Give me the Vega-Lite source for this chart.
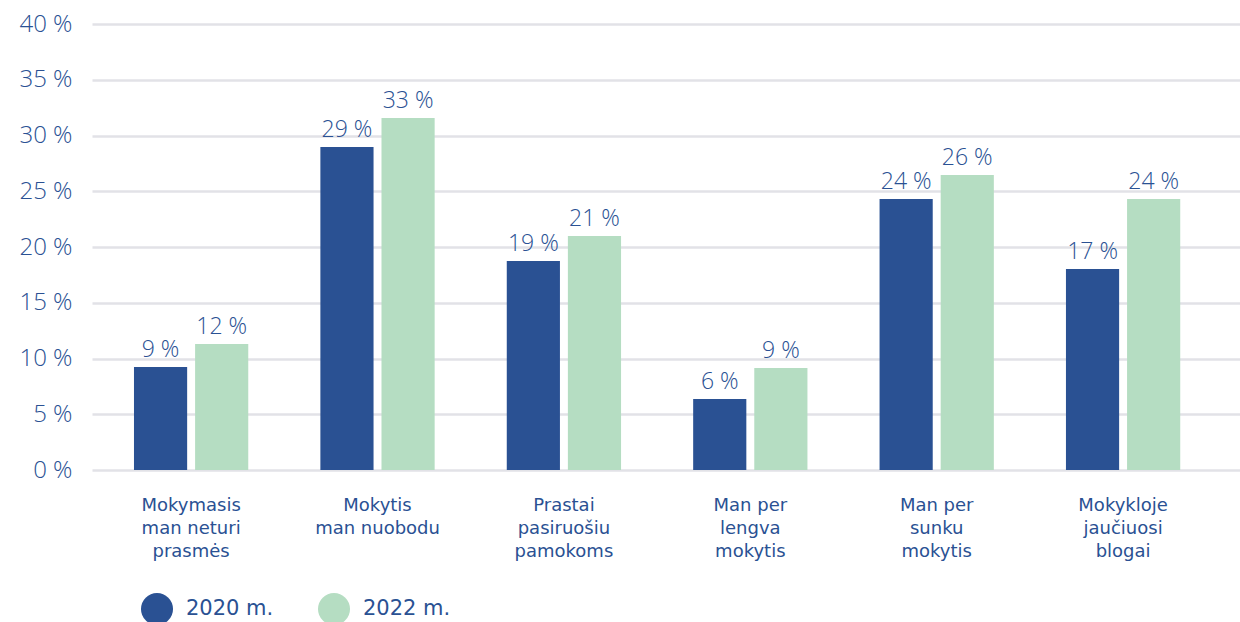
{
  "$schema": "https://vega.github.io/schema/vega-lite/v6.json",
  "autosize": {"type": "none"},
  "width": 1148,
  "height": 446,
  "padding": {"left": 92, "top": 24, "right": 0, "bottom": 152},
  "background": "white",
  "config": {
    "view": {"stroke": null},
    "font": "Open Sans",
    "axis": {"labelColor": "#2a5193", "titleColor": "#2a5193"}
  },
  "data": {
    "values": [
      {"cat": "Mokymasis|man neturi|prasmės", "year": "2020 m.", "value": 9.24, "label": "9 %"},
      {"cat": "Mokymasis|man neturi|prasmės", "year": "2022 m.", "value": 11.3, "label": "12 %"},
      {"cat": "Mokytis|man nuobodu", "year": "2020 m.", "value": 28.97, "label": "29 %"},
      {"cat": "Mokytis|man nuobodu", "year": "2022 m.", "value": 31.57, "label": "33 %"},
      {"cat": "Prastai|pasiruošiu|pamokoms", "year": "2020 m.", "value": 18.74, "label": "19 %"},
      {"cat": "Prastai|pasiruošiu|pamokoms", "year": "2022 m.", "value": 20.99, "label": "21 %"},
      {"cat": "Man per|lengva|mokytis", "year": "2020 m.", "value": 6.37, "label": "6 %"},
      {"cat": "Man per|lengva|mokytis", "year": "2022 m.", "value": 9.15, "label": "9 %"},
      {"cat": "Man per|sunku|mokytis", "year": "2020 m.", "value": 24.3, "label": "24 %"},
      {"cat": "Man per|sunku|mokytis", "year": "2022 m.", "value": 26.46, "label": "26 %"},
      {"cat": "Mokykloje|jaučiuosi|blogai", "year": "2020 m.", "value": 18.03, "label": "17 %"},
      {"cat": "Mokykloje|jaučiuosi|blogai", "year": "2022 m.", "value": 24.3, "label": "24 %"}
    ]
  },
  "encoding": {
    "x": {
      "field": "cat",
      "type": "nominal",
      "sort": null,
      "scale": {"paddingInner": 0, "paddingOuter": 0.0795, "align": 0.2},
      "axis": {
        "title": null,
        "labelAngle": 0,
        "domain": false,
        "ticks": false,
        "labelPadding": 26,
        "labelFontSize": 18,
        "labelFont": "DejaVu Sans",
        "labelLineHeight": 23,
        "labelBaseline": "top",
        "labelExpr": "split(datum.value, '|')"
      }
    },
    "xOffset": {
      "field": "year",
      "type": "nominal",
      "scale": {"paddingInner": 0.13, "paddingOuter": 0.59}
    },
    "y": {
      "field": "value",
      "type": "quantitative",
      "scale": {"domain": [0, 40], "nice": false},
      "axis": {
        "title": null,
        "values": [0, 5, 10, 15, 20, 25, 30, 35, 40],
        "labelExpr": "datum.value + ' %'",
        "domain": false,
        "ticks": false,
        "labelPadding": 20,
        "labelFontSize": 24,
        "labelFont": "Open Sans",
        "labelFontWeight": 300,
        "gridColor": "#e2e2e7",
        "gridWidth": 2.5
      }
    }
  },
  "layer": [
    {
      "mark": {"type": "bar"},
      "encoding": {
        "color": {
          "field": "year",
          "type": "nominal",
          "scale": {"domain": ["2020 m.", "2022 m."], "range": ["#2a5193", "#b5ddc2"]},
          "legend": {
            "title": null,
            "orient": "none",
            "direction": "horizontal",
            "legendX": 49,
            "legendY": 569,
            "symbolType": "circle",
            "symbolSize": 1024,
            "symbolStrokeWidth": 0,
            "labelFontSize": 21,
            "labelFont": "DejaVu Sans",
            "labelColor": "#2a5193",
            "labelOffset": 13,
            "columnPadding": 44
          }
        }
      }
    },
    {
      "mark": {
        "type": "text",
        "baseline": "bottom",
        "dy": -5,
        "fontSize": 23,
        "fontWeight": 300,
        "font": "Open Sans",
        "color": "#2a5193"
      },
      "encoding": {"text": {"field": "label"}}
    }
  ]
}
